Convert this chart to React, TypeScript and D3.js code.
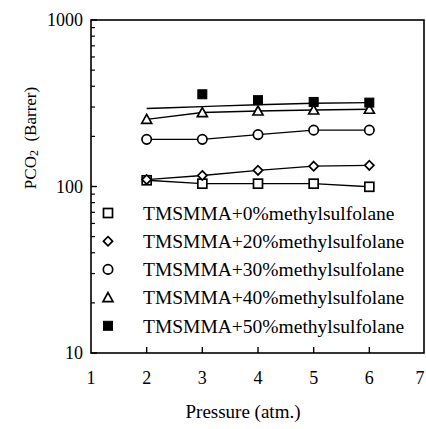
import React from "react";
import * as d3 from "d3";

const pressures = [2, 3, 4, 5, 6];
const series0 = [109, 104, 104, 104, 99.6];
const series20 = [110, 116.5, 125, 132.5, 134];
const series30 = [192, 192, 205, 218, 218];
const series40 = [253, 278, 284, 288, 291];
const pressures50 = [3, 4, 5, 6];
const series50 = [358, 330, 322, 319];
const fit50 = [294, 302, 310, 316, 319];
const legendLabels = [
  "TMSMMA+0%methylsulfolane",
  "TMSMMA+20%methylsulfolane",
  "TMSMMA+30%methylsulfolane",
  "TMSMMA+40%methylsulfolane",
  "TMSMMA+50%methylsulfolane",
];
const xTicks = [1, 2, 3, 4, 5, 6, 7];
const yTicks = [10, 100, 1000];

const W = 426, H = 429;
const L = 91, R = 425, T = 20, B = 353;
const font = "'Liberation Serif', 'Times New Roman', serif";

function Marker({ kind, x, y }: { kind: string; x: number; y: number }) {
  const s = 4.5;
  if (kind === "square")
    return <rect x={x - s} y={y - s} width={2 * s} height={2 * s} fill="#fff" stroke="#000" strokeWidth={1.7} />;
  if (kind === "filled")
    return <rect x={x - s} y={y - s} width={2 * s} height={2 * s} fill="#000" stroke="#000" strokeWidth={1} />;
  if (kind === "circle")
    return <circle cx={x} cy={y} r={4.7} fill="#fff" stroke="#000" strokeWidth={1.7} />;
  if (kind === "diamond")
    return <path d={`M${x},${y - 4.6}L${x + 4.6},${y}L${x},${y + 4.6}L${x - 4.6},${y}Z`} fill="#fff" stroke="#000" strokeWidth={1.7} />;
  return <path d={`M${x},${y - 5}L${x + 5},${y + 4}L${x - 5},${y + 4}Z`} fill="#fff" stroke="#000" strokeWidth={1.7} />;
}

export default function App() {
  const x = d3.scaleLinear().domain([1, 7]).range([L, R]);
  const y = d3.scaleLog().domain([10, 1000]).range([B, T]);
  const line = d3.line<[number, number]>().x((d) => x(d[0])).y((d) => y(d[1]));
  const curve = d3.line<[number, number]>().x((d) => x(d[0])).y((d) => y(d[1])).curve(d3.curveMonotoneX);

  const lined = [
    { kind: "square", vals: series0 },
    { kind: "diamond", vals: series20 },
    { kind: "circle", vals: series30 },
    { kind: "triangle", vals: series40 },
  ];
  const minor: number[] = [];
  for (const dec of [10, 100]) for (let k = 2; k <= 9; k++) minor.push(dec * k);

  const legendKinds = ["square", "diamond", "circle", "triangle", "filled"];

  return (
    <svg width={W} height={H} style={{ display: "block", position: "absolute", left: 0, top: 0 }}>
      <rect x={0} y={0} width={W} height={H} fill="#fff" />
      <rect x={L} y={T} width={R - L - 1} height={B - T} fill="none" stroke="#000" strokeWidth={1.6} />
      {minor.map((v) => (
        <line key={v} x1={L} x2={L + 4} y1={y(v)} y2={y(v)} stroke="#000" strokeWidth={1.2} />
      ))}
      {yTicks.map((v) => (
        <g key={v}>
          <line x1={L} x2={L + 6} y1={y(v)} y2={y(v)} stroke="#000" strokeWidth={1.4} />
          <text x={L - 8} y={y(v)} dy="0.35em" textAnchor="end" fontFamily={font} fontSize={18}>{v}</text>
        </g>
      ))}
      {xTicks.map((v) => (
        <g key={v}>
          {v > 1 && v < 7 && <line x1={x(v)} x2={x(v)} y1={B} y2={B - 6} stroke="#000" strokeWidth={1.4} />}
          <text x={v === 7 ? x(v) - 5 : x(v)} y={384} textAnchor="middle" fontFamily={font} fontSize={18}>{v}</text>
        </g>
      ))}
      <text x={(x(1) + x(7)) / 2 - 15} y={418} textAnchor="middle" fontFamily={font} fontSize={19}>Pressure (atm.)</text>
      <text transform={`translate(36,138) rotate(-90)`} textAnchor="middle" fontFamily={font} fontSize={17}>
        PCO<tspan fontSize={12} dy={2}>2</tspan><tspan dy={-2}>{"\u00a0\u00a0(Barrer)"}</tspan>
      </text>
      <path d={curve(pressures.map((p, i) => [p, fit50[i]]) as [number, number][]) || ""} fill="none" stroke="#000" strokeWidth={1.4} />
      {lined.map((s) => (
        <path key={s.kind} d={line(pressures.map((p, i) => [p, s.vals[i]]) as [number, number][]) || ""} fill="none" stroke="#000" strokeWidth={1.4} />
      ))}
      {lined.map((s) =>
        pressures.map((p, i) => <Marker key={s.kind + p} kind={s.kind} x={x(p)} y={y(s.vals[i])} />)
      )}
      {pressures50.map((p, i) => <Marker key={"f" + p} kind="filled" x={x(p)} y={y(series50[i])} />)}
      {legendLabels.map((lab, i) => {
        const ly = 213 + i * 28.2;
        return (
          <g key={lab}>
            <Marker kind={legendKinds[i]} x={108} y={ly} />
            <text x={143} y={ly} dy="0.35em" fontFamily={font} fontSize={19.5}>{lab}</text>
          </g>
        );
      })}
    </svg>
  );
}
